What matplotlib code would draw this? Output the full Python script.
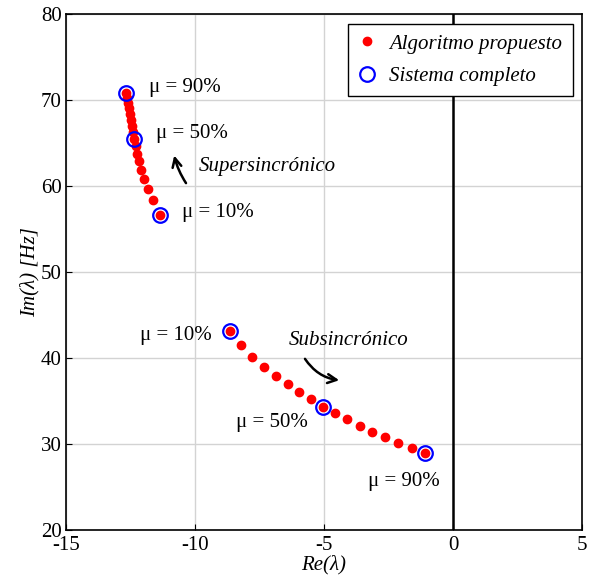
import matplotlib
matplotlib.use("Agg")
import matplotlib.pyplot as plt
import numpy as np

# eigenvalues traced for mu = 10% ... 90% (5% steps)
mu = np.arange(10, 95, 5)

# supersynchronous branch
re_sup = [-11.33, -11.61, -11.82, -11.97, -12.07, -12.16, -12.23, -12.29, -12.36,
          -12.40, -12.44, -12.48, -12.52, -12.56, -12.60, -12.63, -12.65]
im_sup = [56.70, 58.45, 59.73, 60.89, 61.94, 62.91, 63.81, 64.66, 65.52,
          66.30, 67.05, 67.75, 68.45, 69.10, 69.70, 70.30, 70.88]

# subsynchronous branch
re_sub = [-8.64, -8.20, -7.77, -7.30, -6.84, -6.40, -5.96, -5.50, -5.03,
          -4.57, -4.10, -3.61, -3.12, -2.63, -2.12, -1.60, -1.09]
im_sub = [43.22, 41.59, 40.19, 39.02, 37.97, 36.97, 36.08, 35.22, 34.36,
          33.59, 32.89, 32.15, 31.45, 30.80, 30.17, 29.59, 28.93]

# full-system check points
mu_check = [10, 50, 90]

plt.rcParams["font.family"] = ["Liberation Serif", "DejaVu Serif"]
plt.rcParams["axes.unicode_minus"] = False

fig = plt.figure(figsize=(5.97, 5.75), dpi=100)
ax = fig.add_axes([0.110, 0.078, 0.865, 0.897])

ax.grid(True, color="#d3d3d3", lw=1)
ax.set_axisbelow(True)
ax.axvline(0, color="black", lw=1.8, zorder=1)

idx = [list(mu).index(m) for m in mu_check]
for re, im in ((re_sup, im_sup), (re_sub, im_sub)):
    ax.plot(re, im, "o", color="red", ms=6, mec="red", ls="none", zorder=3,
            label="Algoritmo propuesto" if re is re_sup else None)
    ax.plot([re[i] for i in idx], [im[i] for i in idx], "o", ms=10.5, mfc="none",
            mec="blue", mew=1.6, ls="none", zorder=4,
            label="Sistema completo" if re is re_sup else None)

fs = 15
ax.text(-11.79, 71.5, "μ = 90%", fontsize=fs, va="center")
ax.text(-11.52, 66.1, "μ = 50%", fontsize=fs, va="center")
ax.text(-10.51, 56.9, "μ = 10%", fontsize=fs, va="center")
ax.text(-9.85, 62.3, "Supersincrónico", fontsize=fs, style="italic", va="center")
ax.annotate("", xy=(-10.82, 63.9), xytext=(-10.28, 60.1),
            arrowprops=dict(arrowstyle="->", lw=1.8, color="black",
                            connectionstyle="arc3,rad=-0.1", mutation_scale=16))

ax.text(-12.14, 42.6, "μ = 10%", fontsize=fs, va="center")
ax.text(-6.37, 42.1, "Subsincrónico", fontsize=fs, style="italic", va="center")
ax.annotate("", xy=(-4.30, 37.4), xytext=(-5.79, 40.2),
            arrowprops=dict(arrowstyle="->", lw=1.8, color="black",
                            connectionstyle="arc3,rad=0.25", mutation_scale=16))
ax.text(-8.39, 32.5, "μ = 50%", fontsize=fs, va="center")
ax.text(-3.28, 25.7, "μ = 90%", fontsize=fs, va="center")

ax.set_xlim(-15, 5)
ax.set_ylim(20, 80)
ax.set_xticks([-15, -10, -5, 0, 5])
ax.set_yticks(np.arange(20, 81, 10))
ax.tick_params(direction="in", length=4, labelsize=fs)
ax.tick_params(axis="x", pad=4)
ax.tick_params(axis="y", pad=3)
for s in ax.spines.values():
    s.set_linewidth(1.2)

ax.set_xlabel("Re(λ)", fontsize=fs, style="italic", labelpad=0)
ax.set_ylabel("Im(λ) [Hz]", fontsize=fs, style="italic", labelpad=1)

leg = ax.legend(loc="upper right", prop={"style": "italic", "size": fs},
                fancybox=False, framealpha=1, edgecolor="black",
                handlelength=0.9, handletextpad=0.6, borderpad=0.5,
                borderaxespad=0.45, labelspacing=0.6)
leg.get_frame().set_linewidth(1.0)

fig.savefig("out.png", dpi=100)
